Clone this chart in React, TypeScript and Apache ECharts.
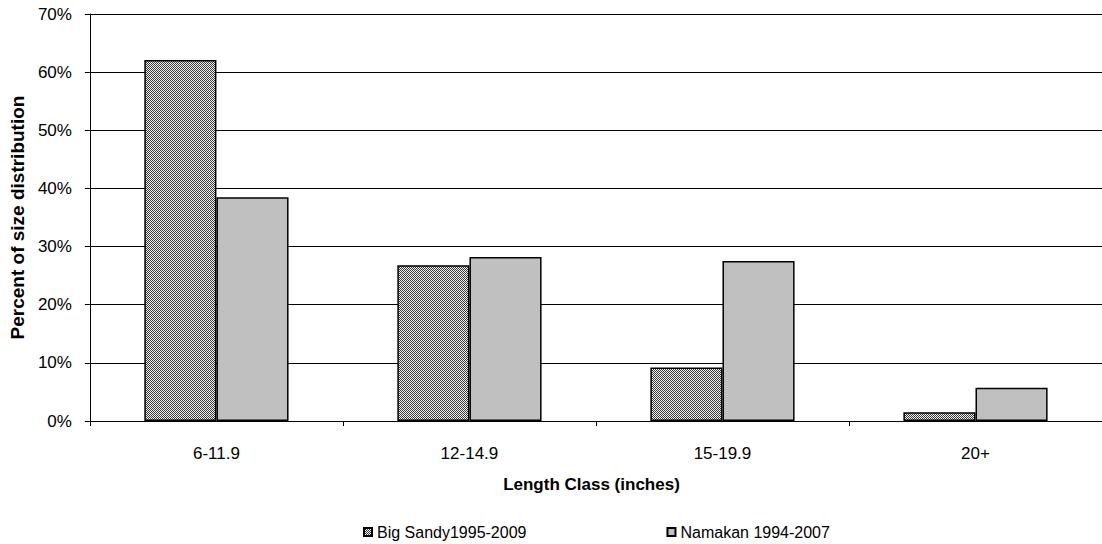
import React, { useEffect, useRef } from "react";
import * as echarts from "echarts";

const categories = ["6-11.9", "12-14.9", "15-19.9", "20+"];
const bigSandy = [62.1, 26.8, 9.2, 1.5];
const namakan = [38.5, 28.2, 27.5, 5.7];
const seriesNames = ["Big Sandy1995-2009", "Namakan 1994-2007"];
const yTicks = [0, 10, 20, 30, 40, 50, 60, 70];

function makeChecker(): HTMLCanvasElement {
  const c = document.createElement("canvas");
  c.width = 2;
  c.height = 2;
  const ctx = c.getContext("2d")!;
  ctx.fillStyle = "#f2f2f2";
  ctx.fillRect(0, 0, 2, 2);
  ctx.fillStyle = "#3a3a3a";
  ctx.fillRect(0, 0, 1, 1);
  ctx.fillRect(1, 1, 1, 1);
  return c;
}

export default function App() {
  const ref = useRef<HTMLDivElement>(null);

  useEffect(() => {
    document.body.style.margin = "0";
    const chart = echarts.init(ref.current!, undefined, { renderer: "svg" });
    const checker = makeChecker();
    const font = "'Liberation Sans', Arial, sans-serif";

    chart.setOption({
      animation: false,
      backgroundColor: "#ffffff",
      textStyle: { fontFamily: font, color: "#000" },
      grid: { left: 88, top: 14, bottom: 123, width: 1023 },
      legend: {
        left: 358,
        top: 519,
        itemWidth: 8,
        itemHeight: 8,
        itemGap: 140,
        icon: "rect",
        textStyle: { fontFamily: font, fontSize: 16, color: "#000" },
        data: seriesNames,
      },
      xAxis: {
        type: "category",
        data: categories,
        name: "Length Class (inches)",
        nameLocation: "middle",
        nameGap: 55,
        nameTextStyle: { fontFamily: font, fontSize: 17, fontWeight: "bold", color: "#000", padding: [0, 9, 0, 0] },
        axisLine: { lineStyle: { color: "#000", width: 1 } },
        axisTick: { show: true, length: 5, lineStyle: { color: "#000" } },
        axisLabel: { fontFamily: font, fontSize: 17, color: "#000", margin: 24 },
      },
      yAxis: {
        type: "value",
        min: 0,
        max: 70,
        interval: 10,
        name: "Percent of size distribution",
        nameLocation: "middle",
        nameGap: 61,
        nameRotate: 90,
        nameTextStyle: { fontFamily: font, fontSize: 19, fontWeight: "bold", color: "#000" },
        axisLine: { show: true, lineStyle: { color: "#000", width: 1 } },
        axisTick: { show: true, length: 5, lineStyle: { color: "#000" } },
        axisLabel: {
          fontFamily: font,
          fontSize: 17,
          color: "#000",
          margin: 18,
          formatter: (v: number) => (yTicks.includes(v) ? `${v}%` : ""),
        },
        splitLine: { show: true, lineStyle: { color: "#000", width: 1 } },
      },
      series: [
        {
          name: seriesNames[0],
          type: "bar",
          data: bigSandy,
          barGap: "0%",
          barCategoryGap: "43%",
          itemStyle: {
            color: { image: checker, repeat: "repeat" },
            borderColor: "#000",
            borderWidth: 1.5,
          },
        },
        {
          name: seriesNames[1],
          type: "bar",
          data: namakan,
          barGap: "0%",
          barCategoryGap: "43%",
          itemStyle: { color: "#c0c0c0", borderColor: "#000", borderWidth: 1.5 },
        },
      ],
    });

    return () => chart.dispose();
  }, []);

  return <div ref={ref} style={{ width: 1102, height: 544 }} />;
}
